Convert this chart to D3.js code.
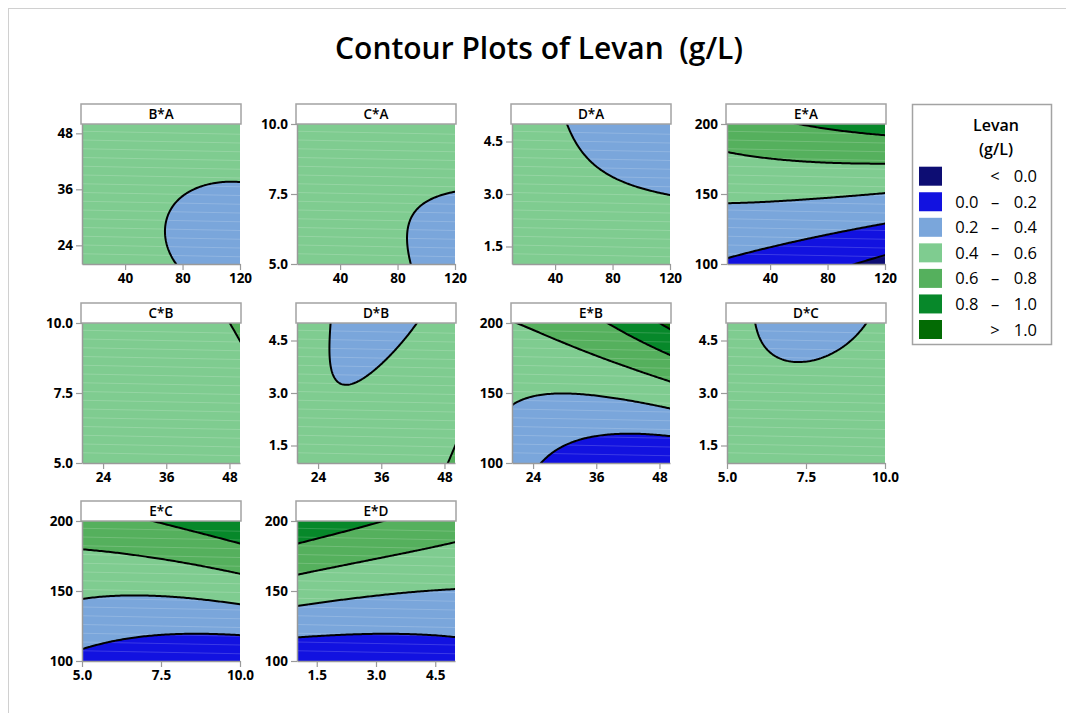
<!DOCTYPE html>
<html>
<head>
<meta charset="utf-8">
<script src="https://cdn.jsdelivr.net/npm/d3@7"></script>
<style>
    body { margin: 0; background: #fff; }
    svg text { font-family: "Open Sans", "Noto Sans", sans-serif; }
</style>
</head>
<body>
<div id="chart"></div>
<script>
// factor ranges and tick labels
var factorDomains = { A: [10, 120], B: [20, 50], C: [5, 10], D: [1, 5], E: [100, 200] };
var factorTicks = { A: [40, 80, 120], B: [24, 36, 48], C: [5.0, 7.5, 10.0], D: [1.5, 3.0, 4.5], E: [100, 150, 200] };
var factorFormats = { A: "d", B: "d", C: ".1f", D: ".1f", E: "d" };

// [x factor, y factor] of each panel, in reading order
var panelFactors = [["A", "B"], ["A", "C"], ["A", "D"], ["A", "E"],
    ["B", "C"], ["B", "D"], ["B", "E"], ["C", "D"],
    ["C", "E"], ["D", "E"]];

// Levan (g/L) read at low / mid / high of each factor
// rows: y high, y mid, y low ; columns: x low, x mid, x high
var levanBA = [[0.585, 0.535, 0.519], [0.541, 0.420, 0.385], [0.557, 0.417, 0.363]];
var levanCA = [[0.444, 0.4565, 0.4825], [0.4558, 0.420, 0.398], [0.5163, 0.4325, 0.3625]];
var levanDA = [[0.4538, 0.3765, 0.2992], [0.438, 0.420, 0.3985], [0.4222, 0.4635, 0.5048]];
var levanEA = [[0.715, 0.808, 0.880], [0.435, 0.428, 0.394], [0.180, 0.080, -0.055]];
var levanCB = [[0.415, 0.4565, 0.630], [0.417, 0.420, 0.535], [0.478, 0.4325, 0.499]];
var levanDB = [[0.4596, 0.3725, 0.470], [0.425, 0.415, 0.540], [0.438, 0.460, 0.620]];
var levanEB = [[0.595, 0.750, 1.048], [0.425, 0.410, 0.514], [0.300, 0.077, 0.010]];
var levanDC = [[0.432, 0.375, 0.4196], [0.4325, 0.420, 0.4565], [0.476, 0.4635, 0.500]];
var levanEC = [[0.715, 0.812, 0.950], [0.432, 0.427, 0.487], [0.153, 0.070, 0.034]];
var levanED = [[0.947, 0.812, 0.692], [0.496, 0.425, 0.392], [0.051, 0.062, 0.102]];
var panelGrids = [levanBA, levanCA, levanDA, levanEA, levanCB, levanDB, levanEB, levanDC, levanEC, levanED];

// contour levels and legend
var levels = [0.0, 0.2, 0.4, 0.6, 0.8, 1.0];
var bandColors = ["#0d0d73", "#1212e0", "#7aa6db", "#7fcc90", "#55b05d", "#07882a", "#036b04"];
var legendLabels = [["", "<", "0.0"], ["0.0", "\u2013", "0.2"], ["0.2", "\u2013", "0.4"], ["0.4", "\u2013", "0.6"],
    ["0.6", "\u2013", "0.8"], ["0.8", "\u2013", "1.0"], ["", ">", "1.0"]];

var colX = [82, 297, 512, 727], rowY = [124, 323, 521];
var pw = 158, ph = 140;

var svg = d3.select("#chart").append("svg")
    .attr("width", 1066)
    .attr("height", 713);

svg.append("rect")
    .attr("x", 8.5).attr("y", 8.5)
    .attr("width", 1080).attr("height", 720)
    .attr("fill", "none")
    .attr("stroke", "#d0d0d0");

// title, fitted to the width it has in the original
var title = svg.append("text")
    .attr("x", 539).attr("y", 59)
    .attr("text-anchor", "middle")
    .style("white-space", "pre")
    .style("font-weight", 600)
    .style("font-size", "24px")
    .text("Contour Plots of Levan  (g/L)");
var tw = title.node().getComputedTextLength();
title.style("font-size", (24 * 408 / tw) + "px");

// quadratic weights at -1, 0, 1
function lagr(t) { return [t * (t - 1) / 2, 1 - t * t, t * (t + 1) / 2]; }

function surface(grid, u, v) {
    var wu = lagr(u), wv = lagr(v);
    var z = 0;
    for (var r = 0; r < 3; r++)
        for (var c = 0; c < 3; c++)
            z += grid[r][c] * wv[2 - r] * wu[c];
    return z;
}

function drawPanel(k) {
    var xf = panelFactors[k][0], yf = panelFactors[k][1];
    var grid = panelGrids[k];
    var x0 = colX[k % 4], y0 = rowY[Math.floor(k / 4)];
    var xd = factorDomains[xf], yd = factorDomains[yf];

    var x = d3.scaleLinear().domain(xd).range([x0, x0 + pw]);
    var y = d3.scaleLinear().domain(yd).range([y0 + ph, y0]);

    // sample the surface a bit past the plot edges so the outer rings get clipped away
    var n = 90, pad = 2, N = n + 2 * pad, h = 2 / (n - 1);
    var values = new Array(N * N);
    for (var j = 0; j < N; j++)
        for (var i = 0; i < N; i++)
            values[j * N + i] = surface(grid, -1 + (i - pad) * h, 1 - (j - pad) * h);

    var proj = d3.geoTransform({
        point: function (cx, cy) {
            var u = -1 + (cx - 0.5 - pad) * h, v = 1 - (cy - 0.5 - pad) * h;
            this.stream.point(x(xd[0] + (u + 1) / 2 * (xd[1] - xd[0])),
                y(yd[0] + (v + 1) / 2 * (yd[1] - yd[0])));
        }
    });
    var path = d3.geoPath(proj);
    var bands = d3.contours().size([N, N]).thresholds(levels)(values);

    var clipId = "clip" + k;
    svg.append("clipPath").attr("id", clipId)
        .append("rect").attr("x", x0).attr("y", y0).attr("width", pw).attr("height", ph);

    var g = svg.append("g").attr("clip-path", "url(#" + clipId + ")");
    g.append("rect")
        .attr("x", x0).attr("y", y0).attr("width", pw).attr("height", ph)
        .attr("fill", bandColors[0]);
    g.selectAll("path.band")
        .data(bands)
        .enter().append("path")
        .attr("class", "band")
        .attr("d", path)
        .attr("fill", function (d, i) { return bandColors[i + 1]; });

    // faint seams of the fill mesh, as in the original render
    g.selectAll("line.seam")
        .data(d3.range(1, 16))
        .enter().append("line")
        .attr("class", "seam")
        .attr("x1", x0).attr("x2", x0 + pw)
        .attr("y1", function (d) { return y0 + d * ph / 16 - 1.5; })
        .attr("y2", function (d) { return y0 + d * ph / 16 + 1.5; })
        .attr("stroke", "#fff")
        .attr("stroke-opacity", 0.22)
        .attr("stroke-width", 0.8);

    g.selectAll("path.line")
        .data(bands)
        .enter().append("path")
        .attr("class", "line")
        .attr("d", path)
        .attr("fill", "none")
        .attr("stroke", "#000")
        .attr("stroke-width", 2)
        .attr("stroke-linejoin", "round");

    // header strip
    svg.append("rect")
        .attr("x", x0 - 1).attr("y", y0 - 20)
        .attr("width", pw + 2).attr("height", 20)
        .attr("fill", "#fff")
        .attr("stroke", "#a3a3a3")
        .attr("stroke-width", 1.5);
    svg.append("text")
        .attr("x", x0 + pw / 2).attr("y", y0 - 5)
        .attr("text-anchor", "middle")
        .style("font-size", "13.5px")
        .style("font-weight", 600)
        .text(yf + "*" + xf);

    var ax = svg.append("g")
        .attr("transform", "translate(0," + (y0 + ph) + ")")
        .call(d3.axisBottom(x).tickValues(factorTicks[xf]).tickSize(6).tickSizeOuter(0)
            .tickFormat(d3.format(factorFormats[xf])));
    var ay = svg.append("g")
        .attr("transform", "translate(" + x0 + ",0)")
        .call(d3.axisLeft(y).tickValues(factorTicks[yf]).tickSize(6).tickSizeOuter(0)
            .tickFormat(d3.format(factorFormats[yf])));
    [ax, ay].forEach(function (a) {
        a.select(".domain").attr("stroke", "#9a9a9a").attr("stroke-width", 1.5);
        a.selectAll(".tick line").attr("stroke", "#9a9a9a").attr("stroke-width", 1.2);
        a.selectAll(".tick text")
            .attr("fill", "#000")
            .style("font-size", "13.5px")
            .style("font-weight", "bold")
            .style("font-family", "'Open Sans', 'Noto Sans', sans-serif");
    });
}

for (var k = 0; k < panelFactors.length; k++) drawPanel(k);

// legend
var lg = svg.append("g");
lg.append("rect")
    .attr("x", 912.5).attr("y", 104.5)
    .attr("width", 139).attr("height", 240)
    .attr("fill", "#fff")
    .attr("stroke", "#a3a3a3")
    .attr("stroke-width", 1.5);
lg.append("text").attr("x", 996).attr("y", 131)
    .attr("text-anchor", "middle")
    .style("font-size", "16px").style("font-weight", 600)
    .text("Levan");
lg.append("text").attr("x", 996).attr("y", 155)
    .attr("text-anchor", "middle")
    .style("font-size", "16px").style("font-weight", 600)
    .text("(g/L)");

var item = lg.selectAll("g.item")
    .data(legendLabels)
    .enter().append("g")
    .attr("class", "item")
    .attr("transform", function (d, i) { return "translate(0," + (166.7 + i * 25.55) + ")"; });
item.append("rect")
    .attr("x", 919).attr("width", 23).attr("height", 19)
    .attr("fill", function (d, i) { return bandColors[i]; });
item.append("text").attr("x", 978.5).attr("y", 15.5)
    .attr("text-anchor", "end")
    .style("font-size", "16.5px")
    .text(function (d) { return d[0]; });
item.append("text").attr("x", 995).attr("y", 15.5)
    .attr("text-anchor", "middle")
    .style("font-size", "16.5px")
    .text(function (d) { return d[1]; });
item.append("text").attr("x", 1037).attr("y", 15.5)
    .attr("text-anchor", "end")
    .style("font-size", "16.5px")
    .text(function (d) { return d[2]; });
</script>
</body>
</html>
